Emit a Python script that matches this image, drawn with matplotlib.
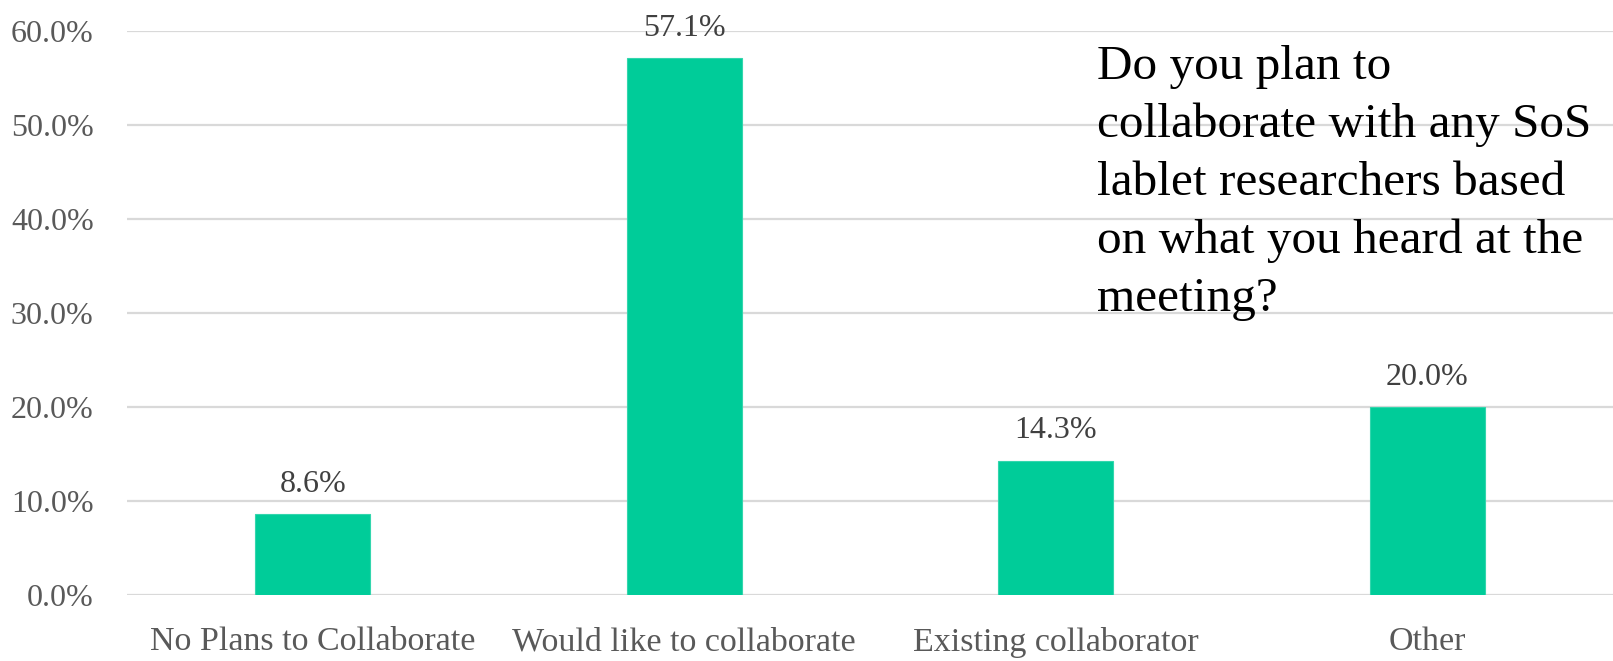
import matplotlib
matplotlib.use("Agg")
import matplotlib.pyplot as plt
from matplotlib.ticker import FuncFormatter

# survey answers
categories = ["No Plans to Collaborate", "Would like to collaborate",
              "Existing collaborator", "Other"]
shares = [8.6, 57.1, 14.3, 20.0]
yticks = [0, 10, 20, 30, 40, 50, 60]
question = ("Do you plan to\ncollaborate with any SoS\nlablet researchers based\n"
            "on what you heard at the\nmeeting?")

plt.rcParams['font.family'] = ['Liberation Serif', 'DejaVu Serif']

fig = plt.figure(figsize=(16.13, 6.61), dpi=100)
ax = fig.add_axes([127 / 1613, 66 / 661, 1 - 127 / 1613, (595 - 30.7) / 661])

x = range(len(categories))
bars = ax.bar(x, shares, width=0.31, color='#00CC99', edgecolor='#33D6AD',
              linewidth=0.8, zorder=3)

for b, v in zip(bars, shares):
    ax.annotate(f"{v:.1f}%", (b.get_x() + b.get_width() / 2, v),
                xytext=(0, 16), textcoords='offset points',
                ha='center', va='baseline', fontsize=23, color='#404040',
                annotation_clip=False)

ax.set_xlim(-0.5, len(categories) - 0.5)
ax.set_ylim(0, 60)
ax.set_yticks(yticks)
ax.yaxis.set_major_formatter(FuncFormatter(lambda v, p: f"{v:.1f}%"))
ax.set_xticks(list(x))
ax.set_xticklabels(categories, fontsize=24.5)

ax.grid(axis='y', color='#D9D9D9', linewidth=1.6, zorder=0)
for s in ax.spines.values():
    s.set_visible(False)
ax.tick_params(axis='both', length=0, labelcolor='#595959')
ax.tick_params(axis='y', pad=24, labelsize=23)
ax.tick_params(axis='x', pad=23)
for lbl in ax.get_yticklabels():
    lbl.set_clip_on(False)

fig.text(1097 / 1613, 1 - 45 / 661, question, ha='left', va='top',
         fontsize=35.5, color='black', linespacing=1.40)

fig.savefig("out.png", dpi=100)
